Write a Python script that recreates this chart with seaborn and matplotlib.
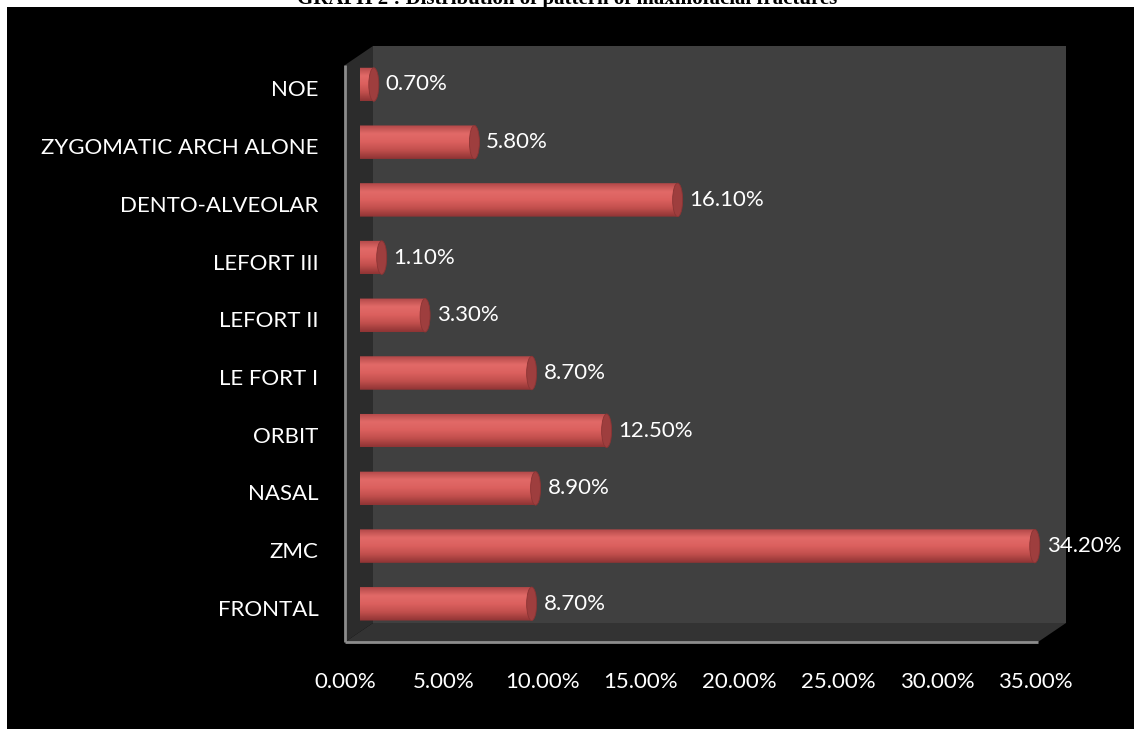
import numpy as np
import pandas as pd
import matplotlib
matplotlib.use("Agg")
import matplotlib.pyplot as plt
import seaborn as sns
from matplotlib.patches import Polygon, Rectangle, Ellipse, PathPatch
from matplotlib.path import Path
from matplotlib.colors import LinearSegmentedColormap
from matplotlib.transforms import ScaledTranslation

# Fracture patterns, listed from top to bottom of the chart
categories = ["NOE", "ZYGOMATIC ARCH ALONE", "DENTO-ALVEOLAR", "LEFORT III",
              "LEFORT II", "LE FORT I", "ORBIT", "NASAL", "ZMC", "FRONTAL"]
percentages = [0.70, 5.80, 16.10, 1.10, 3.30, 8.70, 12.50, 8.90, 34.20, 8.70]
x_ticks = [0, 5, 10, 15, 20, 25, 30, 35]
x_tick_labels = ["0.00%", "5.00%", "10.00%", "15.00%", "20.00%",
                 "25.00%", "30.00%", "35.00%"]
title = "GRAPH 2 : Distribution of pattern of maxillofacial fractures"

df = pd.DataFrame({"pattern": categories, "pct": percentages})

sns.set_theme(style="dark")
plt.rcParams["font.family"] = ["Lato", "DejaVu Sans"]

W, H, DPI = 1134, 729, 100
FS = 16
fig = plt.figure(figsize=(W / DPI, H / DPI), dpi=DPI, facecolor="white")

# Background layer in pixel coordinates: black panel and the 3-D chart box
bg = fig.add_axes([0, 0, 1, 1], zorder=0)
bg.set_xlim(0, W)
bg.set_ylim(H, 0)
bg.axis("off")
bg.add_patch(Rectangle((7, 7), W - 7, H - 7, facecolor="black", edgecolor="none"))

fl, fr, ft, fb = 345, 1038, 65, 642      # front face
dx, dy = 28, -19                          # depth offset
bg.add_patch(Rectangle((fl + dx, ft + dy), fr - fl, fb - ft,
                       facecolor="#404040", edgecolor="none"))
bg.add_patch(Polygon([(fl, ft), (fl + dx, ft + dy), (fl + dx, fb + dy), (fl, fb)],
                     closed=True, facecolor="#2c2c2c", edgecolor="none"))
bg.add_patch(Polygon([(fl, fb), (fl + dx, fb + dy), (fr + dx, fb + dy), (fr, fb)],
                     closed=True, facecolor="#333333", edgecolor="none"))
bg.plot([fl, fl], [ft, fb], color="#8c8c8c", lw=2, solid_capstyle="butt")
bg.plot([fl, fr], [fb, fb], color="#8c8c8c", lw=2, solid_capstyle="butt")

# Title line sits at the very top edge of the page, mostly above it
fig.text(567 / W, 1 - 4 / H, title, ha="center", va="baseline",
         fontsize=15, fontweight="bold", family="Liberation Serif",
         color="black", zorder=-1)

# Main axes: x=0 at 360 px, 19.73 px per percent; rows 57.7 px apart
px_per = 19.73
x0_px, top_px, row_px = 360, 84.5 - 57.7 / 2, 57.7
ax = fig.add_axes([x0_px / W, 1 - (top_px + 10 * row_px) / H,
                   35 * px_per / W, 10 * row_px / H], zorder=2)
ax.patch.set_alpha(0)

bar_h = 0.58
sns.barplot(data=df, x="pct", y="pattern", orient="h", width=bar_h,
            color="#d65a58", saturation=1, ax=ax, zorder=3)

cyl = LinearSegmentedColormap.from_list(
    "cyl", ["#b24848", "#e26a68", "#db605e", "#c04e4c", "#8e3434"])
grad = np.linspace(0, 1, 64).reshape(-1, 1)
capw = 5 / px_per

for p, v in zip(ax.patches, percentages):
    x, y, w, h = p.get_x(), p.get_y(), p.get_width(), p.get_height()
    p.set_facecolor("none")
    p.set_edgecolor("none")
    t = np.linspace(np.pi / 2, 3 * np.pi / 2, 30)
    verts = [(x + capw * np.cos(a), y + h / 2 - h / 2 * np.sin(a)) for a in t]
    verts = [(x, y)] + verts[1:-1] + [(x, y + h), (x + w, y + h), (x + w, y), (x, y)]
    body = PathPatch(Path(verts, closed=True), facecolor="none", edgecolor="none",
                     transform=ax.transData)
    ax.add_patch(body)
    img = ax.imshow(grad, cmap=cyl, aspect="auto", interpolation="bicubic",
                    extent=(x - capw, x + w, y + h, y), zorder=3)
    img.set_clip_path(body)
    ax.add_patch(Ellipse((x + w, y + h / 2), 2 * capw, h, facecolor="#9e3e3e",
                         edgecolor="#8a3434", lw=0.6, zorder=4))

ax.set_xlim(0, 35)
ax.set_ylim(9.5, -0.5)

lbl_font = dict(color="white", fontsize=FS)
for c in ax.containers:
    texts = ax.bar_label(c, labels=[f"{v:.2f}%" for v in percentages],
                         padding=8.5, **lbl_font)
    for t in texts:
        t.set_transform(t.get_transform() + ScaledTranslation(0, -4 / DPI, fig.dpi_scale_trans))

ax.set_xticks(x_ticks)
ax.set_xticklabels(x_tick_labels, **lbl_font)
ax.tick_params(axis="x", length=0, pad=28)
ax.tick_params(axis="y", length=0, pad=30, labelsize=FS, labelcolor="white")
for t in ax.get_xticklabels():
    t.set_transform(t.get_transform() + ScaledTranslation(-15 / DPI, 0, fig.dpi_scale_trans))
for t in ax.get_yticklabels():
    t.set_transform(t.get_transform() + ScaledTranslation(0, -4 / DPI, fig.dpi_scale_trans))

ax.set_xlabel("")
ax.set_ylabel("")
ax.grid(False)
for s in ax.spines.values():
    s.set_visible(False)

fig.savefig("out.png", dpi=DPI, facecolor="white")
